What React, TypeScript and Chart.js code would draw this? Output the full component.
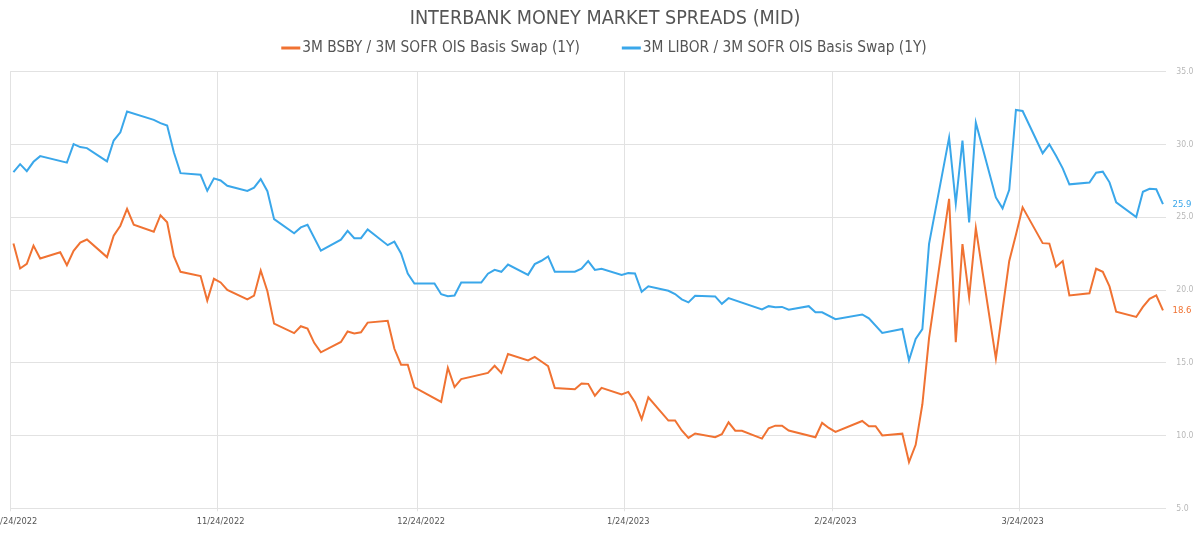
import React, { useEffect, useRef } from 'react';
import { Chart, registerables } from 'chart.js';

Chart.register(...registerables);

const FONT = "'Liberation Sans Narrow', 'DejaVu Sans Condensed', 'Roboto', sans-serif";
Chart.defaults.font.family = FONT;

// Trading dates (business days with a published fixing)
const dates = [
  '2022-10-24', '2022-10-25', '2022-10-26', '2022-10-27', '2022-10-28',
  '2022-10-31', '2022-11-01', '2022-11-02', '2022-11-03', '2022-11-04',
  '2022-11-07', '2022-11-08', '2022-11-09', '2022-11-10', '2022-11-11',
  '2022-11-14', '2022-11-15', '2022-11-16', '2022-11-17', '2022-11-18',
  '2022-11-21', '2022-11-22', '2022-11-23', '2022-11-24', '2022-11-25',
  '2022-11-28', '2022-11-29', '2022-11-30', '2022-12-01', '2022-12-02',
  '2022-12-05', '2022-12-06', '2022-12-07', '2022-12-08', '2022-12-09',
  '2022-12-12', '2022-12-13', '2022-12-14', '2022-12-15', '2022-12-16',
  '2022-12-19', '2022-12-20', '2022-12-21', '2022-12-22', '2022-12-23',
  '2022-12-26', '2022-12-27', '2022-12-28', '2022-12-29', '2022-12-30',
  '2023-01-02', '2023-01-03', '2023-01-04', '2023-01-05', '2023-01-06',
  '2023-01-09', '2023-01-10', '2023-01-11', '2023-01-12', '2023-01-13',
  '2023-01-16', '2023-01-17', '2023-01-18', '2023-01-19', '2023-01-20',
  '2023-01-23', '2023-01-24', '2023-01-25', '2023-01-26', '2023-01-27',
  '2023-01-30', '2023-01-31', '2023-02-01', '2023-02-02', '2023-02-03',
  '2023-02-06', '2023-02-07', '2023-02-08', '2023-02-09', '2023-02-10',
  '2023-02-13', '2023-02-14', '2023-02-15', '2023-02-16', '2023-02-17',
  '2023-02-20', '2023-02-21', '2023-02-22', '2023-02-23', '2023-02-24',
  '2023-02-28', '2023-03-01', '2023-03-02', '2023-03-03',
  '2023-03-06', '2023-03-07', '2023-03-08', '2023-03-09', '2023-03-10',
  '2023-03-13', '2023-03-14', '2023-03-15', '2023-03-16', '2023-03-17',
  '2023-03-20', '2023-03-21', '2023-03-22', '2023-03-23', '2023-03-24',
  '2023-03-27', '2023-03-28', '2023-03-29', '2023-03-30', '2023-03-31',
  '2023-04-03', '2023-04-04', '2023-04-05', '2023-04-06', '2023-04-07',
  '2023-04-10', '2023-04-11', '2023-04-12', '2023-04-13', '2023-04-14',
];

// 3M BSBY / 3M SOFR OIS basis swap (1Y), bp; null = no fixing that day
const bsbyValues: (number | null)[] = [
  23.19, 21.48, 21.80, 23.05, 22.16,
  22.60, 21.71, 22.69, 23.26, 23.47,
  22.26, 23.74, 24.42, 25.57, 24.49,
  24.01, 25.14, 24.66, 22.33, 21.25,
  20.96, 19.27, 20.77, 20.52, 20.00,
  19.36, 19.61, 21.34, 19.92, 17.69,
  17.04, 17.51, 17.35, 16.37, 15.72,
  16.43, 17.15, 17.02, 17.10, 17.76,
  17.89, 15.96, 14.87, 14.86, 13.31,
  null, 12.31, 14.66, 13.33, 13.88,
  null, 14.30, 14.79, 14.30, 15.60,
  15.16, 15.40, 15.09, 14.77, 13.27,
  13.18, 13.58, 13.55, 12.74, 13.28,
  12.82, 13.00, 12.29, 11.12, 12.63,
  11.03, 11.03, 10.35, 9.84, 10.14,
  9.88, 10.09, 10.91, 10.33, 10.33,
  9.79, 10.50, 10.68, 10.67, 10.34,
  null, 9.88, 10.87, 10.52, 10.25,
  11.00, 10.64, 10.64, 10.01,
  10.13, 8.18, 9.36, 12.15, 16.69,
  26.26, 16.42, 23.15, 19.50, 24.25,
  15.29, 18.65, 22.00, 23.80, 25.68,
  23.22, 23.19, 21.60, 21.99, 19.63,
  19.77, 21.46, 21.25, 20.25, 18.51,
  18.15, 18.84, 19.40, 19.63, 18.60,
];

// 3M LIBOR / 3M SOFR OIS basis swap (1Y), bp; null = no fixing that day
const liborValues: (number | null)[] = [
  28.10, 28.65, 28.17, 28.81, 29.20,
  null, 28.75, 30.02, 29.82, 29.75,
  28.84, 30.27, 30.84, 32.27, null,
  31.69, 31.47, 31.30, 29.47, 28.03,
  27.92, 26.82, 27.67, 27.53, 27.16,
  26.81, 27.03, 27.62, 26.79, 24.87,
  23.90, 24.30, 24.48, null, 22.70,
  23.46, 24.07, 23.56, 23.56, 24.16,
  23.08, 23.32, 22.51, 21.13, 20.45,
  20.45, 19.71, 19.57, 19.62, 20.51,
  20.51, 21.12, 21.39, 21.25, 21.75,
  21.04, 21.78, 22.01, 22.31, 21.26,
  21.26, 21.46, 21.98, 21.38, 21.46,
  21.03, 21.16, 21.14, 19.88, 20.26,
  19.95, 19.72, 19.36, 19.15, 19.61,
  19.56, 19.05, 19.44, null, null,
  18.66, 18.89, 18.81, 18.84, 18.65,
  18.89, 18.47, 18.47, null, 18.00,
  18.32, 18.05, null, 17.05,
  17.32, 15.17, 16.63, 17.31, 23.17,
  30.47, 25.94, 30.27, 24.64, 31.50,
  26.36, 25.61, 26.89, 32.37, 32.30,
  29.40, 30.01, 29.23, 28.36, 27.26,
  27.38, 28.06, 28.13, 27.40, 26.03,
  25.02, 26.75, 26.96, 26.92, 25.90,
];

const seriesLabels = [
  '3M BSBY / 3M SOFR OIS Basis Swap (1Y)',
  '3M LIBOR / 3M SOFR OIS Basis Swap (1Y)',
];
const seriesColors = ['#F07232', '#3AA7EA'];

const tickDates = ['2022-10-24', '2022-11-24', '2022-12-24', '2023-01-24', '2023-02-24', '2023-03-24'];
const tickLabels = ['10/24/2022', '11/24/2022', '12/24/2022', '1/24/2023', '2/24/2023', '3/24/2023'];
const axisStart = '2022-10-24';
const axisEnd = '2023-04-15';
const yMin = 5;
const yMax = 35;
const yStep = 5;

const TITLE = 'INTERBANK MONEY MARKET SPREADS (MID)';

const MS_PER_DAY = 86400000;
const toDay = (s: string) => {
  const [y, m, d] = s.split('-').map(Number);
  return Date.UTC(y, m - 1, d) / MS_PER_DAY;
};

// fixings are stamped at midday
const toPoints = (values: (number | null)[]) =>
  dates
    .map((d, i) => ({ x: toDay(d) + 0.5, y: values[i] }))
    .filter((p) => p.y !== null) as { x: number; y: number }[];

const GRID = '#e2e2e2';

// Legend row: short line marker followed by the series name
const legendRow = {
  id: 'legendRow',
  afterDraw(chart: any) {
    const { ctx } = chart;
    ctx.save();
    ctx.font = `15.3px ${FONT}`;
    ctx.textBaseline = 'middle';
    ctx.textAlign = 'left';
    const markW = 19;
    const gap = 2;
    const spacing = 42;
    const items = chart.data.datasets.map((ds: any) => ({
      text: ds.label as string,
      color: ds.borderColor as string,
      w: ctx.measureText(ds.label).width,
    }));
    const total =
      items.reduce((s: number, it: any) => s + markW + gap + it.w, 0) + spacing * (items.length - 1);
    let x = chart.width / 2 + 4 - total / 2;
    const y = 48;
    items.forEach((it: any) => {
      ctx.strokeStyle = it.color;
      ctx.lineWidth = 3;
      ctx.beginPath();
      ctx.moveTo(x, y);
      ctx.lineTo(x + markW, y);
      ctx.stroke();
      ctx.fillStyle = '#555';
      ctx.fillText(it.text, x + markW + gap, y);
      x += markW + gap + it.w + spacing;
    });
    ctx.restore();
  },
};

// Latest value printed to the right of each line's end
const lastValueLabels = {
  id: 'lastValueLabels',
  afterDatasetsDraw(chart: any) {
    const { ctx } = chart;
    ctx.save();
    ctx.font = `9.5px ${FONT}`;
    ctx.textBaseline = 'middle';
    ctx.textAlign = 'left';
    chart.data.datasets.forEach((ds: any, i: number) => {
      const meta = chart.getDatasetMeta(i);
      const el = meta.data[meta.data.length - 1];
      const v = ds.data[ds.data.length - 1].y as number;
      ctx.fillStyle = ds.borderColor;
      ctx.fillText(v.toFixed(1), el.x + 9.5, el.y);
    });
    ctx.restore();
  },
};

export default function App() {
  const canvasRef = useRef<HTMLCanvasElement>(null);

  useEffect(() => {
    if (!canvasRef.current) return;
    const seriesValues = [bsbyValues, liborValues];
    const chart = new Chart(canvasRef.current, {
      type: 'line',
      data: {
        datasets: seriesValues.map((vals, i) => ({
          label: seriesLabels[i],
          data: toPoints(vals),
          borderColor: seriesColors[i],
          backgroundColor: seriesColors[i],
          borderWidth: 2,
          pointRadius: 0,
          tension: 0,
          fill: false,
        })),
      },
      options: {
        responsive: false,
        animation: false,
        layout: { padding: { left: 10.1, right: 0, top: 0, bottom: 0 } },
        plugins: {
          title: {
            display: true,
            text: TITLE,
            color: '#555',
            font: { family: FONT, size: 19.6, weight: 'normal', lineHeight: 1.2 },
            // the space under the title holds the legend row
            padding: { top: 7.2, bottom: 41 },
          },
          legend: { display: false },
          tooltip: { enabled: false },
        },
        scales: {
          x: {
            type: 'linear',
            min: toDay(axisStart),
            max: toDay(axisEnd),
            afterBuildTicks: (scale: any) => {
              scale.ticks = tickDates.map((d) => ({ value: toDay(d) }));
            },
            afterFit: (scale: any) => {
              scale.paddingLeft = 0;
              scale.paddingRight = 0;
              scale.height = 24.7;
            },
            ticks: {
              autoSkip: false,
              maxRotation: 0,
              minRotation: 0,
              labelOffset: 3.3,
              padding: 5,
              color: '#555',
              font: { family: FONT, size: 9.2 },
              callback: (_v: any, i: number) => tickLabels[i],
            },
            grid: { color: GRID, lineWidth: 1, drawTicks: true, tickLength: 3 },
            border: { display: false },
          },
          y: {
            type: 'linear',
            position: 'right',
            min: yMin,
            max: yMax,
            afterFit: (scale: any) => {
              scale.width = 33.7;
            },
            ticks: {
              stepSize: yStep,
              padding: 10,
              color: '#b8b8b8',
              font: { family: FONT, size: 8.6 },
              callback: (v: any) => Number(v).toFixed(1),
            },
            grid: { color: GRID, lineWidth: 1, drawTicks: false },
            border: { display: false },
          },
        },
      },
      plugins: [legendRow, lastValueLabels],
    } as any);
    return () => chart.destroy();
  }, []);

  return (
    <canvas
      ref={canvasRef}
      width={1200}
      height={533}
      style={{ position: 'absolute', left: 0, top: 0, width: 1200, height: 533, background: '#fff' }}
    />
  );
}
